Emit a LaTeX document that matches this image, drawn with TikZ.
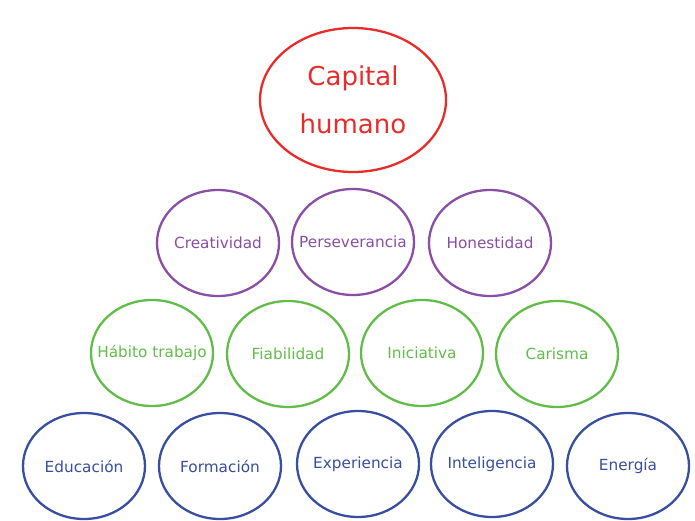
\documentclass[tikz,border=0pt]{standalone}
\usepackage{fontspec}
\setmainfont{DejaVu Sans}
\usetikzlibrary{shapes.geometric}
\definecolor{cred}{RGB}{232,44,44}
\definecolor{cpurple}{RGB}{138,78,165}
\definecolor{cgreen}{RGB}{98,188,72}
\definecolor{cblue}{RGB}{56,78,160}
\tikzset{
  oval/.style={ellipse, draw, line width=2.3pt, inner sep=0pt, minimum width=122pt, minimum height=106pt},
  ovaltext/.style={inner sep=0pt, font=\fontsize{15.3}{18}\selectfont},
  topoval/.style={oval, draw=cred, minimum width=186pt, minimum height=144pt},
  toptext/.style={inner sep=0pt, text=cred, align=center, font=\fontsize{26}{48}\selectfont},
  purp/.style={oval, draw=cpurple},
  grn/.style={oval, draw=cgreen},
  blu/.style={oval, draw=cblue},
}
\begin{document}
\begin{tikzpicture}[x=1pt,y=-1pt]
\useasboundingbox (0,0) rectangle (695,521);
\node[topoval] (cap) at (353,100) {};
\node[toptext] (capt) at (cap.center) {Capital\\humano};
\node[purp] (cre) at (218,243) {};
\node[purp] (per) at (353,242) {};
\node[purp] (hon) at (490,243) {};
\node[grn] (hab) at (152,353) {};
\node[grn] (fia) at (288,354) {};
\node[grn] (ini) at (422,353) {};
\node[grn] (car) at (557,354) {};
\node[blu] (edu) at (84,466) {};
\node[blu] (for) at (220,466) {};
\node[blu] (exp) at (358,464) {};
\node[blu] (int) at (492,464) {};
\node[blu] (ene) at (628,466) {};
\node[ovaltext, text=cpurple] (cret) at (cre.center) {Creatividad};
\node[ovaltext, text=cpurple] (pert) at (per.center) {Perseverancia};
\node[ovaltext, text=cpurple] (hont) at (hon.center) {Honestidad};
\node[ovaltext, text=cgreen] (habt) at (hab.center) {Hábito trabajo};
\node[ovaltext, text=cgreen] (fiat) at (fia.center) {Fiabilidad};
\node[ovaltext, text=cgreen] (init) at (ini.center) {Iniciativa};
\node[ovaltext, text=cgreen] (cart) at (car.center) {Carisma};
\node[ovaltext, text=cblue] (edut) at (edu.center) {Educación};
\node[ovaltext, text=cblue] (fort) at (for.center) {Formación};
\node[ovaltext, text=cblue] (expt) at (exp.center) {Experiencia};
\node[ovaltext, text=cblue] (intt) at (int.center) {Inteligencia};
\node[ovaltext, text=cblue] (enet) at (ene.center) {Energía};
\end{tikzpicture}
\end{document}
